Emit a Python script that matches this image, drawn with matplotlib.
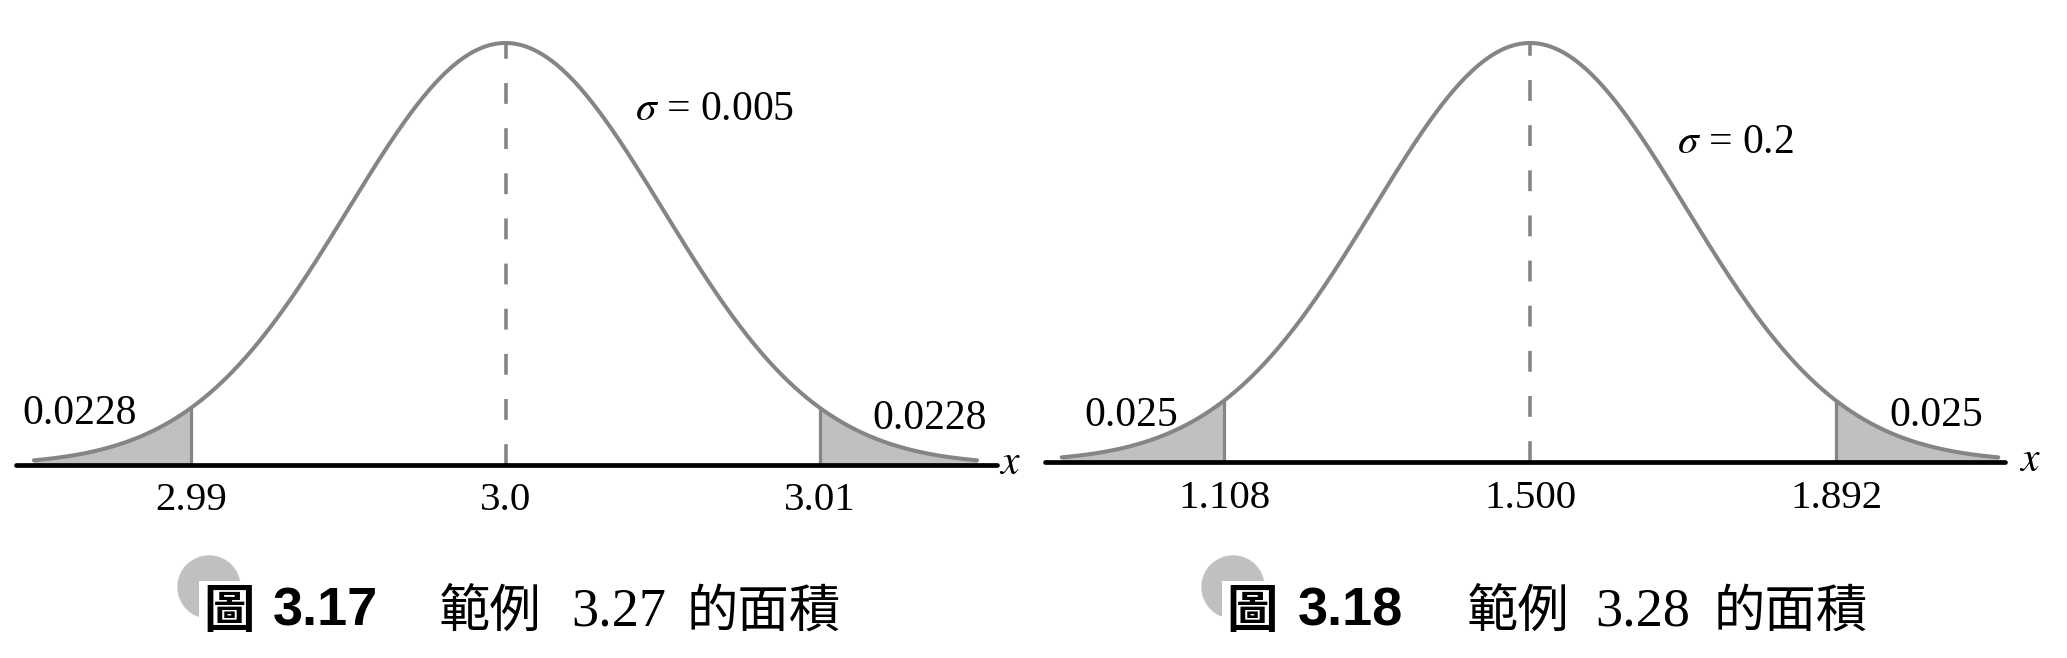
import numpy as np
import matplotlib
matplotlib.use("Agg")
import matplotlib.pyplot as plt
from matplotlib.patches import Circle

plt.rcParams['mathtext.fontset'] = 'stix'
plt.rcParams['lines.scale_dashes'] = False

W, H = 2067, 658

# ---- data ----
mu1 = 3.0
sigma1 = 0.005
cuts1 = [2.99, 3.01]
tails1 = ['0.0228', '0.0228']
ticks1 = [2.99, 3.0, 3.01]
ticklabels1 = ['2.99', '3.0', '3.01']
sigma_label1 = r'$\sigma$ = 0.005'
caption1 = ['圖', '3.17', '範例', '3.27', '的面積']

mu2 = 1.5
sigma2 = 0.2
cuts2 = [1.108, 1.892]
tails2 = ['0.025', '0.025']
ticks2 = [1.108, 1.500, 1.892]
ticklabels2 = ['1.108', '1.500', '1.892']
sigma_label2 = r'$\sigma$ = 0.2'
caption2 = ['圖', '3.18', '範例', '3.28', '的面積']

CURVE = '#858585'
FILL = '#bfc0c2'
SERIF = 'Liberation Serif'
CJK = 'Noto Sans CJK TC'

fig = plt.figure(figsize=(W / 100, H / 100), dpi=100)


def fx(px):
    return px / W


def fy(py):
    return 1 - py / H


def panel(mu, sigma, cuts, tails, ticks, ticklabels, slabel,
          left_px, right_px, center_px, sig_px, base_py, top_py,
          tail_pos, sig_pos, xlab_px, tick_py):
    xl = mu + (left_px - center_px) / sig_px * sigma
    xr = mu + (right_px - center_px) / sig_px * sigma
    ax = fig.add_axes([fx(left_px), fy(base_py), (right_px - left_px) / W,
                       (base_py - top_py) / H])
    ax.set_xlim(xl, xr)
    ax.set_ylim(0, 1)
    ax.axis('off')
    x = np.linspace(mu - 3 * sigma, mu + 3 * sigma, 800)
    y = np.exp(-0.5 * ((x - mu) / sigma) ** 2)
    m = x <= cuts[0]
    ax.fill_between(x[m], 0, y[m], color=FILL, lw=0)
    m = x >= cuts[1]
    ax.fill_between(x[m], 0, y[m], color=FILL, lw=0)
    for c in cuts:
        ax.plot([c, c], [0, np.exp(-0.5 * ((c - mu) / sigma) ** 2)],
                color=CURVE, lw=2.3, solid_capstyle='butt')
    ax.plot([mu, mu], [0, 1], color=CURVE, lw=2.6,
            dashes=(15, 17.5), clip_on=False)
    ax.plot(x, y, color=CURVE, lw=2.9, clip_on=False,
            solid_capstyle='round')
    ax.plot([xl, xr], [0, 0], color='black', lw=3.4, clip_on=False,
            solid_capstyle='round')
    ty = -(tick_py - base_py) / (base_py - top_py)
    for t, lab in zip(ticks, ticklabels):
        ax.text(t, ty, lab, ha='center', va='center', fontsize=29.5,
                family=SERIF)
    for (px, py), lab in zip(tail_pos, tails):
        fig.text(fx(px), fy(py), lab, ha='center', va='center',
                 fontsize=30, family=SERIF)
    fig.text(fx(sig_pos[0]), fy(sig_pos[1]), slabel, ha='left',
             va='center', fontsize=30, family=SERIF)
    fig.text(fx(xlab_px[0]), fy(xlab_px[1]), r'$x$', ha='center',
             va='center', fontsize=30)
    return ax


panel(mu1, sigma1, cuts1, tails1, ticks1, ticklabels1, sigma_label1,
      16, 997, 505.5, 157.2, 465, 43,
      [(80, 414), (930, 419)], (635, 110), (1010, 462), 501)
panel(mu2, sigma2, cuts2, tails2, ticks2, ticklabels2, sigma_label2,
      1045, 2005, 1530, 156.1, 462, 43,
      [(1131, 416), (1936, 416)], (1677, 143), (2030, 459), 499)


def caption(parts, xs, circ_x):
    cy = 612
    circ = Circle((circ_x / 100, (H - 587) / 100), 0.31,
                  transform=fig.dpi_scale_trans, color=FILL, zorder=0)
    fig.patches.append(circ)
    styles = [dict(family=CJK, fontsize=37, weight='bold'),
              dict(family='Liberation Sans', fontsize=39, weight='bold'),
              dict(family=CJK, fontsize=37),
              dict(family=SERIF, fontsize=39),
              dict(family=CJK, fontsize=37)]
    for p, x0, st in zip(parts, xs, styles):
        kw = {}
        if p == '圖':
            kw['bbox'] = dict(facecolor='white', edgecolor='none', pad=3)
        fig.text(fx(x0), fy(cy), p, ha='left', va='center', zorder=2,
                 **st, **kw)


caption(caption1, [203, 273, 439, 571, 687], 209)
caption(caption2, [1226, 1298, 1467, 1595, 1714], 1233)

fig.savefig('out.png', dpi=100, facecolor='white')
